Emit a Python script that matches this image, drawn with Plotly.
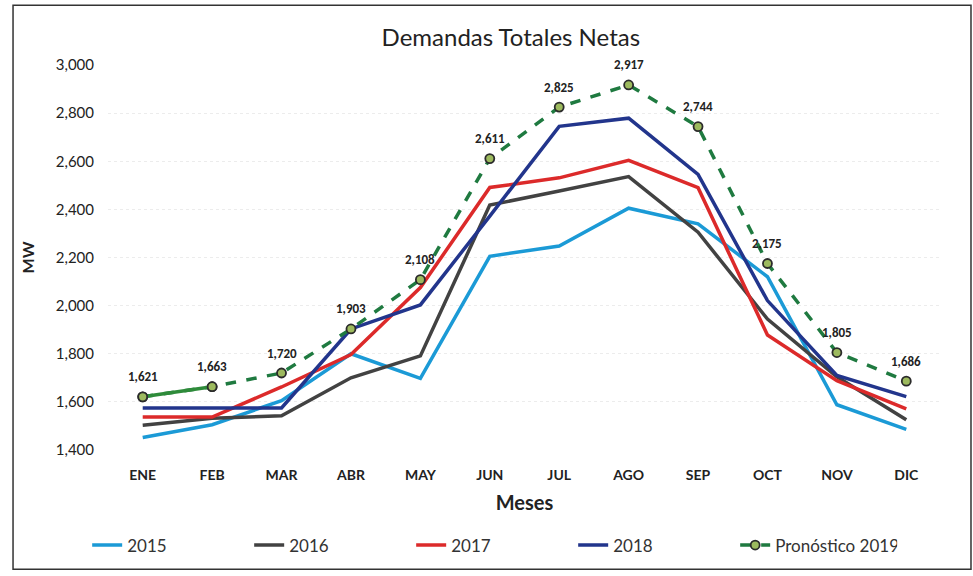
import plotly.graph_objects as go

months = ["ENE", "FEB", "MAR", "ABR", "MAY", "JUN", "JUL", "AGO", "SEP", "OCT", "NOV", "DIC"]
d2015 = [1452, 1505, 1605, 1800, 1698, 2205, 2248, 2405, 2340, 2120, 1588, 1486]
d2016 = [1503, 1532, 1542, 1700, 1791, 2418, 2476, 2536, 2305, 1944, 1704, 1526]
d2017 = [1537, 1537, 1662, 1797, 2075, 2491, 2531, 2604, 2490, 1878, 1688, 1571]
d2018 = [1575, 1575, 1575, 1903, 2003, 2372, 2745, 2779, 2545, 2021, 1710, 1622]
d2019 = [1621, 1663, 1720, 1903, 2108, 2611, 2825, 2917, 2744, 2175, 1805, 1686]
real_months = months[:2]
real2019 = d2019[:2]

font_main = "Century Gothic, Lato, Open Sans, sans-serif"
font_lbl = "Calibri, Carlito, Open Sans, sans-serif"

fig = go.Figure()
series = [("2015", d2015, "#1b9ad6"), ("2016", d2016, "#424242"),
          ("2017", d2017, "#dc2a2a"), ("2018", d2018, "#22358c")]
for name, vals, col in series:
    fig.add_trace(go.Scatter(x=months, y=vals, name=name, mode="lines",
                             line=dict(color=col, width=3.5)))

fig.add_trace(go.Scatter(x=months, y=d2019, name="Pronóstico 2019",
                         mode="lines+markers",
                         line=dict(color="#1f7a40", width=3.5, dash="dash"),
                         marker=dict(size=9, color="#9dba5e",
                                     line=dict(color="#2b2b2b", width=1.8))))
fig.add_trace(go.Scatter(x=real_months, y=real2019, mode="lines+markers",
                         showlegend=False, hoverinfo="skip",
                         line=dict(color="#2e8b3a", width=3.5),
                         marker=dict(size=9, color="#9dba5e",
                                     line=dict(color="#2b2b2b", width=1.8))))
for m, v in zip(months, d2019):
    fig.add_annotation(x=m, y=v, text=f"{v:,}", showarrow=False, yshift=20,
                       font=dict(family=font_lbl, size=13, color="#222222", weight="bold"))

fig.update_layout(
    width=973, height=576,
    margin=dict(l=108, r=32, t=65, b=124),
    paper_bgcolor="white", plot_bgcolor="white",
    title=dict(text="Demandas Totales Netas", x=0.525, xanchor="center",
               y=0.935, yanchor="middle", yref="container",
               font=dict(family=font_main, size=24, color="#222222")),
    xaxis=dict(type="category", range=[-0.5, 11.5], showgrid=False, zeroline=False,
               showline=False, ticks="outside", ticklen=12, tickcolor="rgba(0,0,0,0)",
               automargin=False,
               tickfont=dict(family=font_main, size=14, color="#222222", weight="bold"),
               title=dict(text="Meses", standoff=14,
                          font=dict(family=font_main, size=20, color="#222222", weight="bold"))),
    yaxis=dict(range=[1400, 3000], dtick=200, tickformat=",d",
               showgrid=True, gridcolor="#ececec", gridwidth=1, griddash="dot",
               zeroline=False, showline=False, automargin=False,
               ticks="outside", ticklen=10, tickcolor="rgba(0,0,0,0)",
               tickfont=dict(family=font_main, size=15, color="#222222"),
               title=dict(text="MW", standoff=17,
                          font=dict(family=font_main, size=16, color="#222222", weight="bold"))),
    legend=dict(orientation="h", x=-0.025, xanchor="left", y=-0.248, yanchor="middle",
                entrywidth=117, entrywidthmode="pixels",
                font=dict(family=font_main, size=17, color="#333333"),
                bgcolor="rgba(0,0,0,0)"),
    showlegend=True,
)
fig.add_shape(type="rect", xref="paper", yref="paper",
              x0=-0.114, x1=1.036, y0=-0.31, y1=1.155,
              line=dict(color="#333333", width=1.5))

fig.write_html("out.html", config={"displayModeBar": False},
               post_script="document.body.style.margin='0';")
